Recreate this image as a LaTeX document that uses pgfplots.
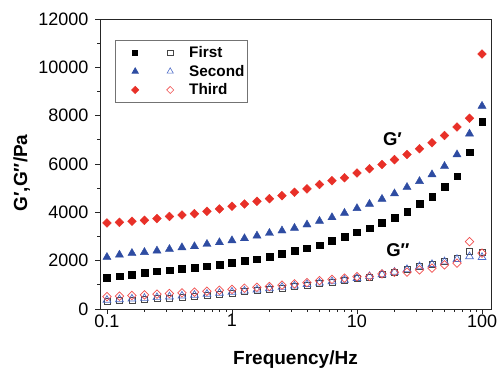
\documentclass[border=0pt]{standalone}
\usepackage{pgfplots}
\pgfplotsset{compat=1.18}
\usepackage{pgfplotstable}
\usepackage{fontspec}
\setmainfont{Liberation Sans}
\usetikzlibrary{calc}

\definecolor{gred}{RGB}{232,48,40}
\definecolor{gblue}{RGB}{46,76,162}
\definecolor{ored}{RGB}{240,78,78}
\definecolor{oblue}{RGB}{78,108,200}
\definecolor{oblack}{RGB}{70,70,70}

% f/Hz, storage (p) and loss (pp) moduli of the three runs, in Pa
\pgfplotstableread{
f       G1p   G1pp  G2p   G2pp  G3p    G3pp
0.1     1300  320   2145  370   3560   510
0.1259  1350  345   2240  395   3585   535
0.1585  1420  370   2310  420   3630   560
0.1995  1490  400   2350  450   3670   585
0.2512  1560  430   2410  480   3740   615
0.3162  1610  460   2475  510   3830   640
0.3981  1660  495   2545  545   3890   670
0.5012  1715  530   2590  580   3945   700
0.6310  1770  570   2685  620   4040   735
0.7943  1835  615   2755  660   4140   775
1.0     1905  660   2835  705   4250   815
1.259   1990  710   2920  750   4345   860
1.585   2060  760   3030  800   4455   900
1.995   2170  815   3140  850   4565   930
2.512   2280  870   3240  905   4690   985
3.162   2400  930   3350  960   4830   1040
3.981   2520  990   3490  1020  4970   1095
5.012   2640  1050  3640  1080  5150   1175
6.310   2820  1115  3790  1140  5310   1230
7.943   2990  1180  3970  1200  5430   1275
10.0    3170  1250  4165  1270  5630   1340
12.59   3350  1330  4345  1350  5800   1345
15.85   3560  1420  4550  1430  5980   1450
19.95   3780  1520  4775  1530  6180   1520
25.12   4030  1640  5040  1640  6390   1525
31.62   4350  1780  5285  1760  6630   1620
39.81   4640  1860  5565  1850  6880   1690
50.12   5050  1990  5910  1960  7180   1825
63.10   5490  2100  6390  2060  7530   1895
79.43   6490  2370  7250  2170  7890   2790
100.0   7740  2340  8400  2140  10550  2310
}\moduli

\begin{document}
\begin{tikzpicture}
\begin{axis}[
  width=391pt, height=290pt, scale only axis,
  xmode=log, xmin=0.088, xmax=118,
  ymin=0, ymax=12000,
  xtick={0.1,1,10,100}, xticklabels={0.1,1,10,100},
  minor xtick={0.2,0.3,0.4,0.5,0.6,0.7,0.8,0.9,2,3,4,5,6,7,8,9,20,30,40,50,60,70,80,90},
  ytick={0,2000,4000,6000,8000,10000,12000},
  minor ytick={1000,3000,5000,7000,9000,11000},
  scaled y ticks=false,
  /pgf/number format/1000 sep={},
  /pgf/number format/assume math mode=true,
  tick align=outside, xtick pos=left, ytick pos=left,
  major tick length=5pt, minor tick length=3pt,
  every tick/.style={black!85, line width=0.8pt},
  axis line style={black!85, line width=0.9pt},
  tick label style={font=\fontsize{18}{21}\selectfont},
  xticklabel style={yshift=3pt},
  yticklabel style={xshift=-3pt},
  label style={font=\bfseries\fontsize{19}{22}\selectfont},
  xlabel={Frequency/Hz},
  xlabel style={at={(axis description cs:0.5,-0.176)}, anchor=center},
  ylabel={G′,G″/Pa},
  ylabel style={at={(axis description cs:-0.2,0.469)}, anchor=center},
  legend style={at={(axis description cs:0.038,0.927)}, anchor=north west,
    draw=black!55, line width=0.7pt, inner xsep=2pt, inner ysep=4pt,
    font=\bfseries\fontsize{15.3}{18}\selectfont, cells={anchor=west},
    nodes={inner xsep=1pt}, row sep=2pt},
]
\coordinate (bl) at (rel axis cs:0,0);
\coordinate (tr) at (rel axis cs:1,1);

% storage moduli (filled) and loss moduli (open)
\addplot[forget plot, only marks, mark=square*, mark size=3.3pt, black]
  table[x=f, y=G1p] {\moduli};
\addplot[forget plot, only marks, mark=triangle*, mark size=4.7pt, gblue]
  table[x=f, y=G2p] {\moduli};
\addplot[forget plot, only marks, mark=square*, mark size=3.1pt, gred,
  mark options={rotate=45}]
  table[x=f, y=G3p] {\moduli};
\addplot[forget plot, only marks, mark=square, mark size=3pt, oblack,
  mark options={line width=0.7pt}]
  table[x=f, y=G1pp] {\moduli};
\addplot[forget plot, only marks, mark=triangle, mark size=4.5pt, oblue,
  mark options={line width=0.7pt}]
  table[x=f, y=G2pp] {\moduli};
\addplot[forget plot, only marks, mark=square, mark size=3pt, ored,
  mark options={rotate=45, line width=0.7pt}]
  table[x=f, y=G3pp] {\moduli};

% legend rows: filled and open symbol side by side
\addlegendimage{legend image code/.code={
  \path[draw=none, fill=none] (0pt,-4pt) rectangle (71pt,4pt);
  \draw[black, fill=black, mark=square*, mark size=2.6pt] plot coordinates {(18pt,0pt)};
  \draw[oblack, mark=square, mark size=2.6pt, line width=0.6pt] plot coordinates {(53pt,0pt)};}}
\addlegendentry{First}
\addlegendimage{legend image code/.code={
  \path[draw=none, fill=none] (0pt,-4pt) rectangle (71pt,4pt);
  \draw[gblue, fill=gblue, mark=triangle*, mark size=3.6pt] plot coordinates {(18pt,0pt)};
  \draw[oblue, mark=triangle, mark size=3.6pt, line width=0.6pt] plot coordinates {(53pt,0pt)};}}
\addlegendentry{Second}
\addlegendimage{legend image code/.code={
  \path[draw=none, fill=none] (0pt,-4pt) rectangle (71pt,4pt);
  \draw[gred, fill=gred, mark=square*, mark size=2.5pt, mark options={rotate=45}] plot coordinates {(18pt,0pt)};
  \draw[ored, mark=square, mark size=2.5pt, line width=0.6pt, mark options={rotate=45}] plot coordinates {(53pt,0pt)};}}
\addlegendentry{Third}

\node[anchor=west, inner sep=0pt, font=\bfseries\fontsize{18.5}{22}\selectfont] at (axis cs:16.1,7017) {G′};
\node[anchor=west, inner sep=0pt, font=\bfseries\fontsize{18.5}{22}\selectfont] at (axis cs:17.1,2450) {G″};
\end{axis}
\pgfresetboundingbox
\path[use as bounding box] ($(bl)+(-100pt,-59pt)$) rectangle ($(tr)+(9pt,19pt)$);
\end{tikzpicture}
\end{document}
